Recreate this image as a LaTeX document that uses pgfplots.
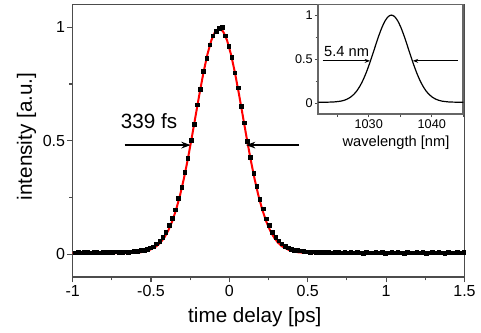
\documentclass[border=0pt]{standalone}
\usepackage{fontspec}
\setmainfont{Liberation Sans}
\usepackage{pgfplots}
\pgfplotsset{compat=1.18}
\usetikzlibrary{arrows.meta}
\begin{document}
\begin{tikzpicture}
\begin{axis}[name=main, scale only axis, width=293.9pt, height=204.4pt,
  xmin=-1, xmax=1.5, ymin=-0.1, ymax=1.1,
  xtick={-1,-0.5,0,0.5,1,1.5}, ytick={0,0.5,1}, minor tick num=1,
  xtick pos=bottom, ytick pos=left, tick align=outside,
  major tick length=4pt, minor tick length=2.5pt,
  axis line style={black!70, line width=0.8pt},
  every tick/.style={black!70, line width=0.8pt},
  /pgf/number format/assume math mode=true,
  ticklabel style={font=\fontsize{12}{14}\selectfont},
  yticklabel style={inner sep=1.5pt},
  xticklabel style={inner sep=2pt},
  xlabel={time delay [ps]}, ylabel={intensity [a.u.]},
  label style={font=\fontsize{15.5}{18}\selectfont},
  xlabel style={at={(axis description cs:0.465,-0.167)}, anchor=base},
  ylabel style={at={(axis description cs:-0.1174,0.516)}, anchor=center},
]
\addplot[only marks, mark=square*, mark size=1.35pt, black] coordinates {
(-0.985,0.007) (-0.965,0.009) (-0.945,0.006) (-0.925,0.008) (-0.905,0.010) (-0.885,0.007) (-0.865,0.009) (-0.845,0.008) (-0.825,0.006) (-0.805,0.009) (-0.785,0.010) (-0.765,0.008) (-0.745,0.009) (-0.725,0.011) (-0.705,0.009) (-0.685,0.010)
(-0.665,0.011) (-0.645,0.010) (-0.625,0.012) (-0.605,0.013) (-0.585,0.013) (-0.565,0.017) (-0.545,0.019) (-0.525,0.021) (-0.505,0.028) (-0.485,0.034) (-0.465,0.046) (-0.445,0.058) (-0.425,0.076) (-0.405,0.096) (-0.385,0.127) (-0.365,0.160) (-0.345,0.196) (-0.325,0.247) (-0.305,0.295) (-0.285,0.362) (-0.265,0.424) (-0.245,0.503) (-0.225,0.574) (-0.205,0.658) (-0.185,0.727) (-0.165,0.806) (-0.145,0.863) (-0.125,0.922) (-0.105,0.962) (-0.085,0.983) (-0.065,0.996)
(-0.045,0.999) (-0.025,0.962) (-0.005,0.917) (0.015,0.868) (0.035,0.799) (0.055,0.733) (0.075,0.651) (0.095,0.579) (0.115,0.497) (0.135,0.428) (0.155,0.356) (0.175,0.299) (0.195,0.242) (0.215,0.201) (0.235,0.157) (0.255,0.127) (0.275,0.098) (0.295,0.074) (0.315,0.059) (0.335,0.046) (0.355,0.036) (0.375,0.029) (0.395,0.023) (0.415,0.019) (0.435,0.017) (0.455,0.015) (0.475,0.013) (0.495,0.012) (0.515,0.010) (0.535,0.011)
(0.555,0.010) (0.575,0.009) (0.595,0.010) (0.615,0.008) (0.635,0.009) (0.655,0.007) (0.675,0.009) (0.695,0.008) (0.715,0.006) (0.735,0.008) (0.755,0.007) (0.775,0.009) (0.795,0.006) (0.815,0.008) (0.835,0.007) (0.855,0.005) (0.875,0.008) (0.895,0.006) (0.915,0.007) (0.935,0.009) (0.955,0.006) (0.975,0.008) (0.995,0.005) (1.015,0.007) (1.035,0.008) (1.055,0.006) (1.075,0.009) (1.095,0.007) (1.115,0.005) (1.135,0.008) (1.155,0.006) (1.175,0.007) (1.195,0.009) (1.215,0.006) (1.235,0.008) (1.255,0.005) (1.275,0.007) (1.295,0.008) (1.315,0.006) (1.335,0.009) (1.355,0.007) (1.375,0.005) (1.395,0.008) (1.415,0.006) (1.435,0.007) (1.455,0.009) (1.475,0.006) (1.495,0.008)
};
\addplot[red, line width=1.5pt] coordinates {
(-1,0.005) (-0.665,0.005) (-0.615,0.0064) (-0.565,0.0093) (-0.515,0.0171) (-0.465,0.0356) (-0.44,0.0515) (-0.415,0.074) (-0.39,0.1046) (-0.365,0.1449) (-0.34,0.1963) (-0.315,0.2594) (-0.29,0.3344) (-0.265,0.4199) (-0.24,0.5138) (-0.215,0.6121) (-0.19,0.7099) (-0.165,0.8016) (-0.14,0.8810) (-0.115,0.9426) (-0.09,0.9816) (-0.065,0.995) (-0.04,0.9816) (-0.015,0.9426) (0.01,0.8810) (0.035,0.8016) (0.06,0.7099) (0.085,0.6121) (0.11,0.5138) (0.135,0.4199) (0.16,0.3344) (0.185,0.2594) (0.21,0.1963) (0.235,0.1449) (0.26,0.1046) (0.285,0.074) (0.31,0.0515) (0.335,0.0356) (0.385,0.0171) (0.435,0.0093) (0.485,0.0064) (0.535,0.005) (1.5,0.005)
};
\draw[line width=1.1pt, -{Stealth[length=7pt,width=5pt]}] (axis cs:-0.668,0.481) -- (axis cs:-0.247,0.481);
\draw[line width=1.1pt, -{Stealth[length=7pt,width=5pt]}] (axis cs:0.445,0.481) -- (axis cs:0.106,0.481);
\node[anchor=base, font=\fontsize{15.5}{18}\selectfont, inner sep=0pt] at (axis cs:-0.512,0.555) {339 fs};
\end{axis}
\begin{axis}[at={(main.north east)}, anchor=north east, xshift=-0.9pt,
  scale only axis, width=108.75pt, height=82.2pt,
  xmin=1022, xmax=1045, ymin=-0.125, ymax=1.12,
  xtick={1030,1040}, ytick={0,0.5,1},
  minor xtick={1025,1035,1045}, minor ytick={0.25,0.75},
  xtick pos=bottom, ytick pos=left, tick align=outside,
  major tick length=2.5pt, minor tick length=2pt,
  axis line style={black!60, line width=1.2pt},
  every tick/.style={black!70, line width=0.6pt},
  axis background/.style={fill=white},
  /pgf/number format/assume math mode=true,
  /pgf/number format/1000 sep={},
  ticklabel style={font=\fontsize{9.5}{11}\selectfont, inner sep=1.5pt},
  xlabel={wavelength [nm]},
  label style={font=\fontsize{11}{13}\selectfont},
  xlabel style={at={(axis description cs:0.536,-0.294)}, anchor=base},
]
\addplot[black, line width=0.9pt, smooth] coordinates {
(1021.5,0.010) (1022.6,0.010) (1023.6,0.011) (1024.6,0.014) (1025.6,0.023) (1026.1,0.032) (1026.6,0.046) (1027.1,0.067) (1027.6,0.097) (1028.1,0.138) (1028.6,0.193) (1029.1,0.262) (1029.6,0.346) (1030.1,0.443) (1030.6,0.549) (1031.1,0.659) (1031.6,0.766) (1032.1,0.860) (1032.6,0.935) (1033.1,0.983) (1033.6,1.000) (1034.1,0.983) (1034.6,0.935) (1035.1,0.860) (1035.6,0.766) (1036.1,0.659) (1036.6,0.549) (1037.1,0.443) (1037.6,0.346) (1038.1,0.262) (1038.6,0.193) (1039.1,0.138) (1039.6,0.097) (1040.1,0.067) (1040.6,0.046) (1041.1,0.032) (1041.6,0.023) (1042.6,0.014) (1043.6,0.011) (1044.6,0.010) (1045.5,0.010)
};
\draw[line width=0.7pt, -{Stealth[length=4pt,width=3pt]}] (axis cs:1022.7,0.48) -- (axis cs:1030.2,0.48);
\draw[line width=0.7pt, -{Stealth[length=4pt,width=3pt]}] (axis cs:1044.1,0.48) -- (axis cs:1037.0,0.48);
\node[anchor=base, font=\fontsize{11}{13}\selectfont, inner sep=0pt] at (axis cs:1026.5,0.53) {5.4 nm};
\end{axis}
\pgfresetboundingbox
\path ([shift={(-54.5pt,-41.25pt)}]main.south west) rectangle ([shift={(12.4pt,3.4pt)}]main.north east);
\end{tikzpicture}
\end{document}
